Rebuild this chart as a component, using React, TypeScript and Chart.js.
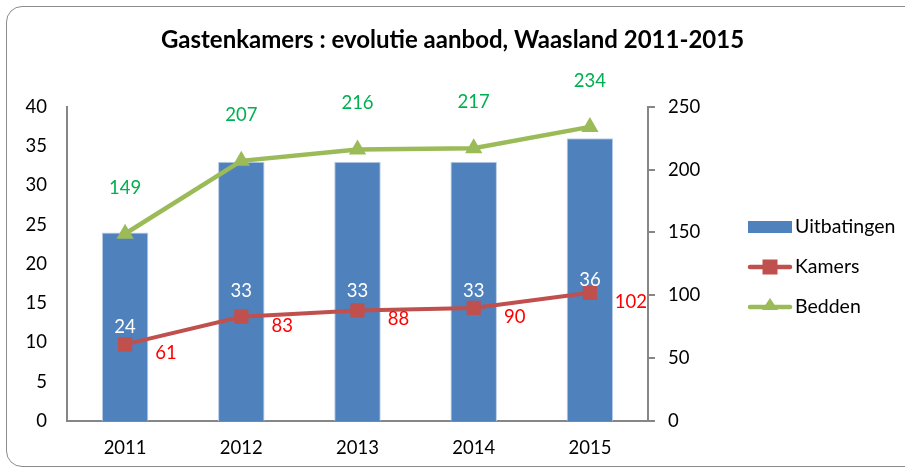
import React, { useEffect, useRef } from "react";
import { Chart, registerables } from "chart.js";

Chart.register(...registerables);

const title = "Gastenkamers : evolutie aanbod, Waasland 2011-2015";
const categories = ["2011", "2012", "2013", "2014", "2015"];
const uitbatingen = [24, 33, 33, 33, 36];
const kamers = [61, 83, 88, 90, 102];
const bedden = [149, 207, 216, 217, 234];
const leftMax = 40;
const leftStep = 5;
const rightMax = 250;
const rightStep = 50;
const seriesNames = ["Uitbatingen", "Kamers", "Bedden"];

const FONT = "Lato, 'Open Sans', sans-serif";
const BLUE = "#4F81BD";
const RED = "#C0504D";
const GREEN = "#9BBB59";
const AXIS = "#868686";

const labelsPlugin = {
  id: "valueLabels",
  afterDatasetsDraw(chart: any) {
    const ctx = chart.ctx;
    ctx.save();
    ctx.font = `18.5px ${FONT}`;
    ctx.textAlign = "center";
    ctx.textBaseline = "middle";
    chart.data.datasets.forEach((ds: any, i: number) => {
      const meta = chart.getDatasetMeta(i);
      meta.data.forEach((el: any, j: number) => {
        const v = ds.data[j];
        if (ds.type === "bar") {
          ctx.fillStyle = "#FFFFFF";
          ctx.fillText(String(v), el.x, (el.y + el.base) / 2);
        } else if (ds.label === "Kamers") {
          ctx.fillStyle = "#FF0000";
          ctx.fillText(String(v), el.x + 41, el.y + 9);
        } else {
          ctx.fillStyle = "#00B050";
          ctx.fillText(String(v), el.x, el.y - 46);
        }
      });
    });
    ctx.restore();
  },
};

const legendPlugin = {
  id: "customLegend",
  afterDraw(chart: any) {
    const ctx = chart.ctx;
    const x0 = chart.chartArea.right + 100;
    const w = 44;
    const ys = [227, 267, 307];
    ctx.save();
    ctx.font = `19.5px ${FONT}`;
    ctx.textBaseline = "middle";
    ctx.textAlign = "left";
    // Uitbatingen
    ctx.fillStyle = BLUE;
    ctx.fillRect(x0, ys[0] - 6, w, 12);
    // Kamers
    ctx.strokeStyle = RED;
    ctx.lineWidth = 4.5;
    ctx.lineCap = "round";
    ctx.beginPath();
    ctx.moveTo(x0 + 2, ys[1]);
    ctx.lineTo(x0 + w - 2, ys[1]);
    ctx.stroke();
    ctx.fillStyle = RED;
    ctx.fillRect(x0 + w / 2 - 7.5, ys[1] - 7.5, 15, 15);
    // Bedden
    ctx.strokeStyle = GREEN;
    ctx.beginPath();
    ctx.moveTo(x0 + 2, ys[2]);
    ctx.lineTo(x0 + w - 2, ys[2]);
    ctx.stroke();
    ctx.fillStyle = GREEN;
    ctx.beginPath();
    const cx = x0 + w / 2;
    ctx.moveTo(cx, ys[2] - 9);
    ctx.lineTo(cx + 8, ys[2] + 3);
    ctx.lineTo(cx - 8, ys[2] + 3);
    ctx.closePath();
    ctx.fill();
    ctx.fillStyle = "#000000";
    seriesNames.forEach((n, i) => ctx.fillText(n, x0 + w + 3, ys[i]));
    ctx.restore();
  },
};

export default function App() {
  const ref = useRef<HTMLCanvasElement>(null);
  useEffect(() => {
    if (!ref.current) return;
    const chart = new Chart(ref.current, {
      type: "bar",
      data: {
        labels: categories,
        datasets: [
          {
            type: "line",
            label: "Kamers",
            data: kamers,
            yAxisID: "y1",
            borderColor: RED,
            backgroundColor: RED,
            borderWidth: 4,
            pointStyle: "rect",
            pointRadius: 10,
            pointHoverRadius: 10,
            pointBorderWidth: 0,
            order: 1,
          },
          {
            type: "line",
            label: "Bedden",
            data: bedden,
            yAxisID: "y1",
            borderColor: GREEN,
            backgroundColor: GREEN,
            borderWidth: 4.5,
            pointStyle: "triangle",
            pointRadius: 10,
            pointHoverRadius: 10,
            pointBorderWidth: 0,
            order: 2,
          },
          {
            type: "bar",
            label: "Uitbatingen",
            data: uitbatingen,
            yAxisID: "y",
            backgroundColor: BLUE,
            borderColor: "#B9CDE5",
            borderWidth: 1,
            barPercentage: 0.4,
            categoryPercentage: 1,
            order: 3,
          },
        ],
      },
      options: {
        responsive: false,
        animation: false,
        devicePixelRatio: 1,
        layout: { padding: { left: 0, right: 0, top: 0, bottom: 0 } },
        plugins: {
          legend: { display: false },
          tooltip: { enabled: false },
          title: {
            display: true,
            text: title,
            color: "#000000",
            font: { family: FONT, size: 24, weight: "bold", lineHeight: 1.2 },
            padding: { top: 26, bottom: 52 },
          },
        },
        scales: {
          x: {
            offset: true,
            grid: { display: false, drawTicks: false },
            border: { display: true, color: AXIS, width: 2 },
            ticks: { color: "#000000", font: { family: FONT, size: 18.5 }, padding: 16 },
            afterFit: (s: any) => {
              s.height = 52;
            },
          },
          y: {
            position: "left",
            min: 0,
            max: leftMax,
            ticks: { stepSize: leftStep, color: "#000000", font: { family: FONT, size: 18.5 }, padding: 20 },
            grid: { display: false, drawTicks: false },
            border: { display: true, color: AXIS, width: 2 },
            afterFit: (s: any) => {
              s.width = 67;
            },
          },
          y1: {
            position: "right",
            min: 0,
            max: rightMax,
            ticks: { stepSize: rightStep, color: "#000000", font: { family: FONT, size: 18.5 }, padding: 13 },
            grid: {
              display: true,
              drawOnChartArea: false,
              drawTicks: true,
              tickLength: 7,
              color: AXIS,
              lineWidth: 2,
            },
            border: { display: true, color: AXIS, width: 2 },
            afterFit: (s: any) => {
              s.width = 257;
            },
          },
        },
      },
      plugins: [labelsPlugin, legendPlugin],
    } as any);
    return () => chart.destroy();
  }, []);

  return (
    <div style={{ position: "absolute", left: 0, top: 0, width: 905, height: 473, overflow: "hidden", background: "#FFFFFF" }}>
      <div
        style={{
          position: "absolute",
          left: 6,
          top: 6,
          width: 940,
          height: 461,
          border: "1.5px solid #8C8C8C",
          borderRadius: 16,
          boxSizing: "border-box",
        }}
      />
      <canvas ref={ref} width={905} height={473} style={{ position: "absolute", left: 0, top: 0, width: 905, height: 473 }} />
    </div>
  );
}
